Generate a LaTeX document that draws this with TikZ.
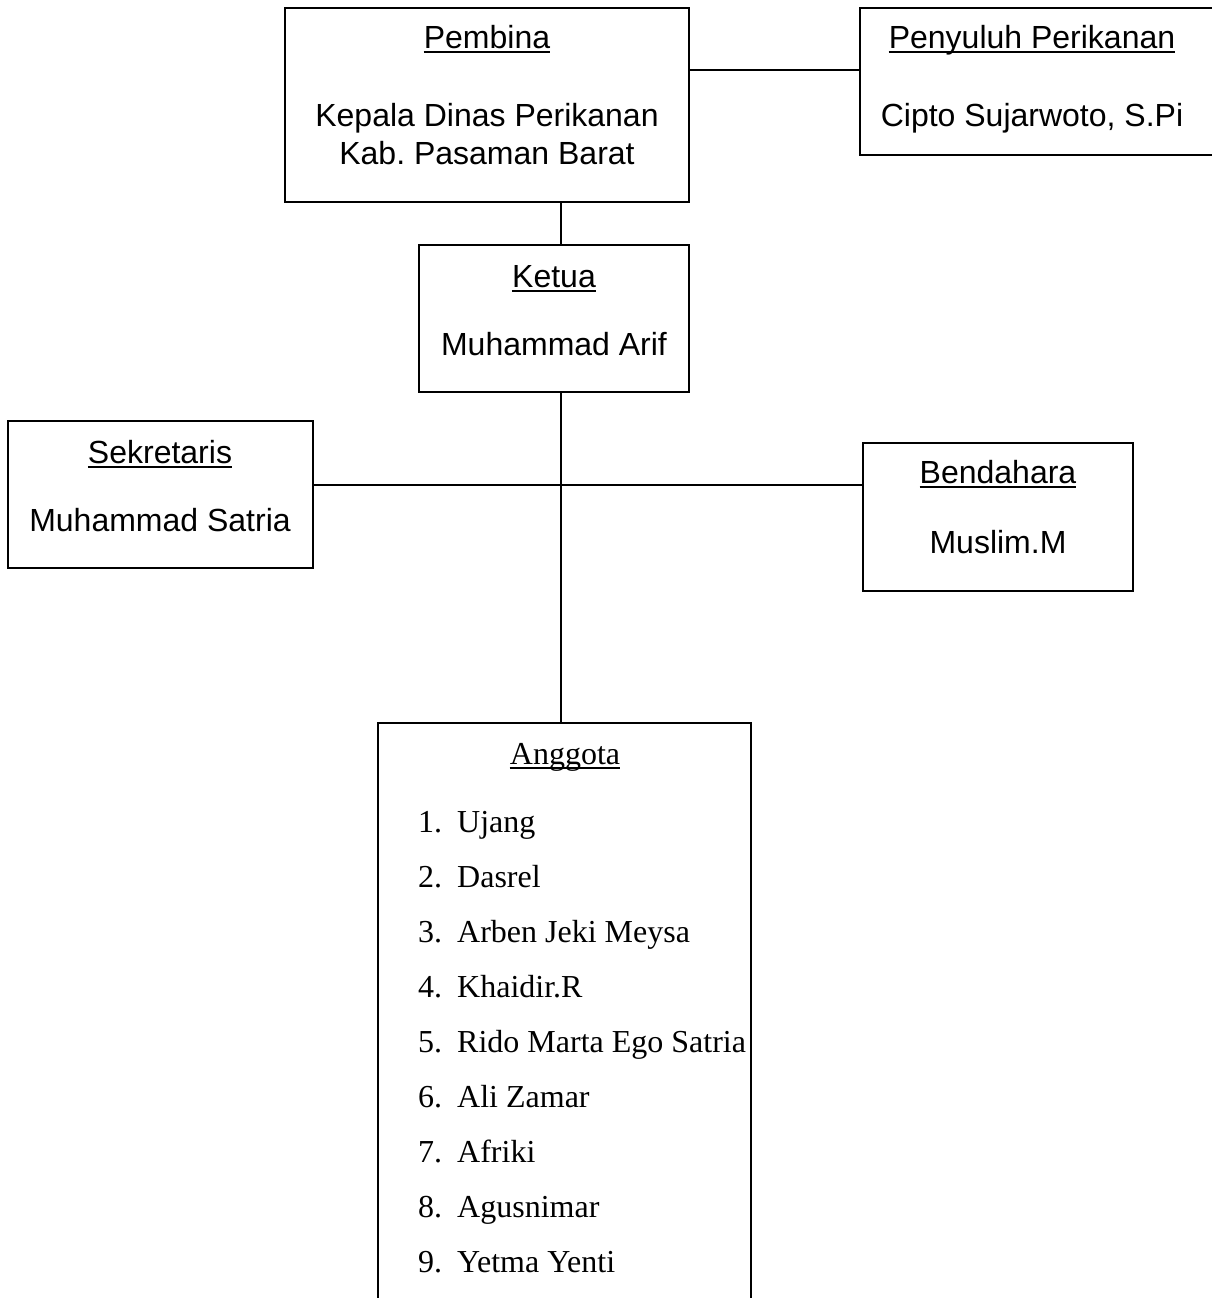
\documentclass[tikz,border=0pt]{standalone}
\usepackage{fontspec}
\setmainfont{Liberation Sans}
\newfontfamily\serifface{Liberation Serif}
\frenchspacing
\begin{document}
\begin{tikzpicture}[x=1bp,y=-1bp,
  box/.style={draw,line width=1.6bp,rectangle,inner sep=0pt},
  txt/.style={inner sep=0pt,anchor=base,font=\fontsize{32bp}{38bp}\selectfont},
  lst/.style={inner sep=0pt,anchor=base west,font=\serifface\fontsize{32bp}{38bp}\selectfont},
  ul/.style={line width=1.6bp},
  con/.style={line width=1.6bp}]
\useasboundingbox (0,0) rectangle (1212,1298);
\clip (0,0) rectangle (1212,1298);
\fill[white] (0,0) rectangle (1212,1298);
% boxes
\node[box,minimum width=404bp,minimum height=194bp] (pem) at (487,105) {};
\node[box,minimum width=380bp,minimum height=147bp] (pen) at (1050,81.5) {};
\node[box,minimum width=270bp,minimum height=147bp] (ket) at (554,318.5) {};
\node[box,minimum width=305bp,minimum height=147bp] (sek) at (160.5,494.5) {};
\node[box,minimum width=270bp,minimum height=148bp] (ben) at (998,517) {};
\node[box,minimum width=373bp,minimum height=607bp] (ang) at (564.5,1026.5) {};
% texts
\node[txt] (tpem) at (487,48) {Pembina};
\node[txt] (pem1) at (487,126) {Kepala Dinas Perikanan};
\node[txt] (pem2) at (487,164) {Kab. Pasaman Barat};
\node[txt] (tpen) at (1032,48) {Penyuluh Perikanan};
\node[txt] (pen1) at (1032,126) {Cipto Sujarwoto, S.Pi};
\node[txt] (tket) at (554,287) {Ketua};
\node[txt] (ket1) at (554,355) {Muhammad Arif};
\node[txt] (tsek) at (160,463) {Sekretaris};
\node[txt] (sek1) at (160,531) {Muhammad Satria};
\node[txt] (tben) at (998,483) {Bendahara};
\node[txt] (ben1) at (998,553) {Muslim.M};
\node[txt,font=\serifface\fontsize{32bp}{38bp}\selectfont] (tang) at (565,764) {Anggota};
\foreach \name [count=\i] in {Ujang,Dasrel,Arben Jeki Meysa,Khaidir.R,Rido Marta Ego Satria,Ali Zamar,Afriki,Agusnimar,Yetma Yenti}{
  \node[lst] (num\i) at (418,{832+55.1*(\i-1)}) {\i.};
  \node[lst] (mem\i) at (457,{832+55.1*(\i-1)}) {\name};
}
% underlines
\foreach \n in {tpem,tpen,tket,tsek,tben,tang}
  \draw[ul] ([yshift=-4bp]\n.base west) -- ([yshift=-4bp]\n.base east);
% connectors
\coordinate (j1) at (700,70);
\coordinate (sp) at (561,485);
\draw[con] (pem.east |- j1) -- (pen.west |- j1);
\draw[con] (pem.south -| sp) -- (ket.north -| sp);
\draw[con] (ket.south -| sp) -- (ang.north -| sp);
\draw[con] (sek.east |- sp) -- (ben.west |- sp);
\end{tikzpicture}
\end{document}
